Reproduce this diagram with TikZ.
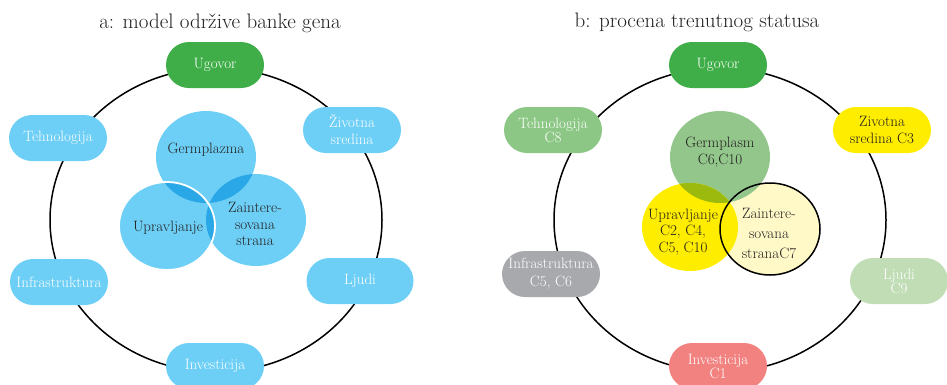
\documentclass[tikz,border=0pt]{standalone}
\usetikzlibrary{shapes.geometric}
\definecolor{ugreen}{HTML}{3FAE49}
\definecolor{lblue}{HTML}{6DCFF6}
\definecolor{dblue}{HTML}{2AA7E6}
\definecolor{mgreen}{HTML}{8DC785}
\definecolor{ggreen}{HTML}{92C68B}
\definecolor{yel}{HTML}{FFED00}
\definecolor{gry}{HTML}{A7A9AC}
\definecolor{pgreen}{HTML}{C1DDB6}
\definecolor{pink}{HTML}{F1827F}
\definecolor{lyel}{HTML}{FFF9C8}
\definecolor{olive}{HTML}{9CBA0E}
\definecolor{txt}{HTML}{231F20}
\tikzset{
  ring/.style={draw=black, line width=1.5pt},
  pill/.style={rectangle, rounded corners=23pt, minimum width=98pt, minimum height=46pt,
    inner sep=0pt, align=center, text=white, font=\fontsize{15}{14}\selectfont},
  title/.style={font=\fontsize{21}{24}\selectfont, text=txt},
  inner/.style={align=center, text=txt, font=\fontsize{15}{16.5}\selectfont},
}
\begin{document}
\begin{tikzpicture}[x=1pt,y=-1pt]
\useasboundingbox (0,0) rectangle (947,384);
% ---------- a ----------
\node[title] (ta) at (220,23) {a: model održive banke gena};
\draw[ring] (216,220) ellipse (166pt and 152pt);
% inner circles
\fill[lblue] (206,157) ellipse (50pt and 46pt);
\fill[lblue] (256,220) ellipse (50pt and 46pt);
\fill[lblue] (167,226) ellipse (48pt and 44pt);
\begin{scope}
  \clip (206,157) ellipse (50pt and 46pt);
  \fill[dblue] (256,220) ellipse (50pt and 46pt);
  \fill[dblue] (167,226) ellipse (48pt and 44pt);
\end{scope}
\begin{scope}
  \clip (256,220) ellipse (50pt and 46pt);
  \fill[dblue] (167,226) ellipse (48pt and 44pt);
\end{scope}
\draw[white, line width=1.8pt] (167,226) ellipse (48pt and 44pt);
\node[inner] (ga) at (206,150) {Germplazma};
\node[inner] (ua) at (168,228) {Upravljanje};
\node[inner] (za) at (255,224) {Zaintere-\\sovana\\strana};
% outer nodes
\node[pill, fill=ugreen] (uga) at (215,65) {Ugovor};
\node[pill, fill=lblue] (tea) at (58,138) {Tehnologija};
\node[pill, fill=lblue, font=\fontsize{15}{17}\selectfont] (zia) at (352,130) {Životna\\sredina};
\node[pill, fill=lblue] (ina) at (59,282) {Infrastruktura};
\node[pill, fill=lblue, minimum width=107pt] (lja) at (360,281) {Ljudi};
\node[pill, fill=lblue] (iva) at (215,366) {Investicija};
% ---------- b ----------
\node[title] (tb) at (697,22) {b: procena trenutnog statusa};
\draw[ring] (720,220) ellipse (166pt and 152pt);
\fill[lyel] (770,229) ellipse (50pt and 46pt);
\fill[ggreen] (720,157) ellipse (50pt and 46pt);
\fill[yel] (690,227) ellipse (48pt and 44pt);
\begin{scope}
  \clip (720,157) ellipse (50pt and 46pt);
  \fill[olive] (690,227) ellipse (48pt and 44pt);
\end{scope}
\draw[black, line width=1.5pt] (770,229) ellipse (50pt and 46pt);
\node[inner] (gb) at (720,152) {Germplasm\\C6,C10};
\node[inner] (ub) at (683,232) {Upravljanje\\C2, C4,\\C5, C10};
\node[inner, font=\fontsize{15}{20}\selectfont] (zb) at (769,233) {Zaintere-\\sovana\\stranaC7};
\node[pill, fill=ugreen] (ugb) at (718,65) {Ugovor};
\node[pill, fill=mgreen] (teb) at (553,130) {Tehnologija\\C8};
\node[pill, fill=yel, text=txt, font=\fontsize{15}{17}\selectfont] (zib) at (882,130) {Zivotna\\sredina C3};
\node[pill, fill=gry, font=\fontsize{15}{18}\selectfont] (inb) at (551,274) {Infrastruktura\\C5, C6};
\node[pill, fill=pgreen] (ljb) at (899,281) {Ljudi\\C9};
\node[pill, fill=pink] (ivb) at (718,366) {Investicija\\C1};
\end{tikzpicture}
\end{document}
